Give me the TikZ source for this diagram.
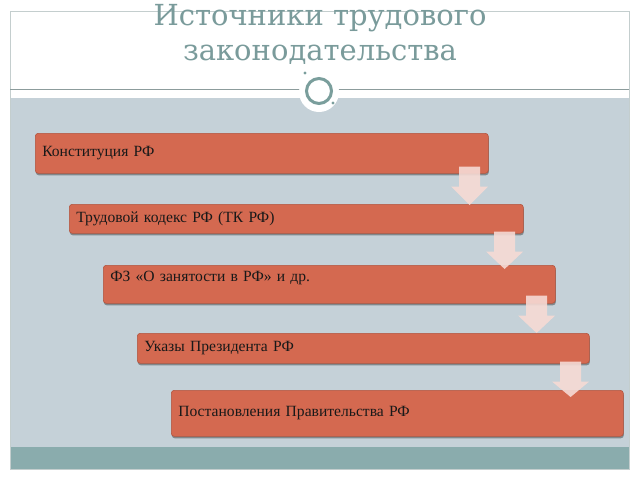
\documentclass[tikz,border=0pt]{standalone}
\usepackage{fontspec}
\setmainfont{Liberation Serif}
\newfontfamily\titlefont{DejaVu Serif}
\usetikzlibrary{shadows,calc}
\definecolor{bggray}{RGB}{197,209,216}
\definecolor{bandteal}{RGB}{138,172,173}
\definecolor{framegray}{RGB}{196,206,206}
\definecolor{divgray}{RGB}{140,156,156}
\definecolor{ringteal}{RGB}{122,158,156}
\definecolor{titlecol}{RGB}{122,155,155}
\definecolor{boxfill}{RGB}{212,105,80}
\definecolor{boxedge}{RGB}{178,84,62}
\definecolor{arrowpink}{RGB}{246,218,212}
\tikzset{
  box/.style={draw=boxedge, line width=0.6pt, fill=boxfill, rounded corners=3pt,
    anchor=north west, inner xsep=7pt, inner ysep=0pt, align=left,
    font=\fontsize{15.6}{18}\selectfont, text=black!90,
    drop shadow={shadow xshift=0.5pt, shadow yshift=-2pt, opacity=0.35, fill=black}},
  titletext/.style={font=\titlefont\fontsize{29}{36}\selectfont, text=titlecol, anchor=base, inner sep=0pt},
  arrowfill/.style={fill=arrowpink, fill opacity=0.9}
}
\newcommand\blockarrow[4]{%
  \path[arrowfill] let \p1=($(#1.south east)+(-19,0)$), \p2=(#2.north) in
    (\x1-10.5pt,\y1+#3) -- (\x1+10.5pt,\y1+#3) -- (\x1+10.5pt,\y1+#3-20pt)
    -- (\x1+18.5pt,\y1+#3-20pt) -- (\x1,\y2-#4) -- (\x1-18.5pt,\y1+#3-20pt)
    -- (\x1-10.5pt,\y1+#3-20pt) -- cycle;}
\begin{document}
\begin{tikzpicture}[x=1pt,y=-1pt]
\useasboundingbox (0,0) rectangle (640,480);
\fill[white] (0,0) rectangle (640,480);
% background regions
\fill[bggray] (10,98) rectangle (629,447);
\fill[bandteal] (10,447) rectangle (629,469);
\draw[framegray, line width=0.9pt] (10,11) rectangle (629,469);
\draw[divgray, line width=0.8pt] (10,89) -- (629,89);
% ornament
\fill[white] (319,92) circle[radius=20];
\draw[ringteal, line width=3pt] (319,91) circle[radius=12.5];
\fill[ringteal] (305,73) circle[radius=1.6];
\fill[ringteal] (333,103) circle[radius=1.6];
% title
\node[titletext] (title1) at (320,25) {Источники трудового};
\node[titletext] (title2) at (320,60) {законодательства};
% boxes
\node[box, minimum width=453pt, minimum height=40pt, text width=439pt] (b1) at (35,133) {Конституция РФ};
\node[box, minimum width=454pt, minimum height=29pt, text width=440pt] (b2) at (69,204) {Трудовой кодекс РФ (ТК РФ)};
\node[box, minimum width=452pt, minimum height=38pt, text width=438pt, text depth=16pt] (b3) at (103,265) {ФЗ «О занятости в РФ» и др.};
\node[box, minimum width=452pt, minimum height=30pt, text width=438pt] (b4) at (137,333) {Указы Президента РФ};
\node[box, minimum width=452pt, minimum height=46pt, text width=438pt] (b5) at (171,390) {Постановления Правительства РФ};
% arrows
\blockarrow{b1}{b2}{7pt}{1pt}
\blockarrow{b2}{b3}{2pt}{4pt}
\blockarrow{b3}{b4}{8pt}{0pt}
\blockarrow{b4}{b5}{2pt}{7pt}
\end{tikzpicture}
\end{document}
